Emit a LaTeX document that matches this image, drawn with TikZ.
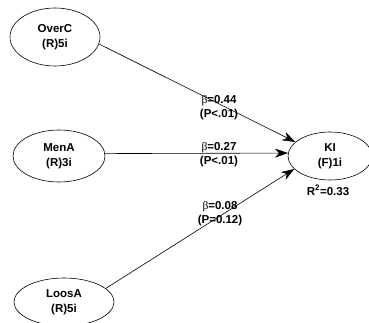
\documentclass[tikz,border=0pt]{standalone}
\usepackage{fontspec}
\setmainfont{Liberation Sans}
\newfontfamily\betafont{Liberation Serif}
\usetikzlibrary{shapes.geometric,arrows.meta}
\begin{document}
\begin{tikzpicture}[x=1pt,y=-1pt,
  lv/.style={draw,line width=0.6pt,ellipse,inner sep=0pt,align=center,font=\bfseries\fontsize{11.5}{15}\selectfont},
  pathline/.style={draw,line width=0.6pt,-{Stealth[length=13pt,width=9pt,inset=4pt]}},
  coef/.style={align=center,font=\bfseries\fontsize{11.5}{14}\selectfont,inner sep=0pt}]
\useasboundingbox (0,0) rectangle (369,323);
\node[lv,minimum width=90pt,minimum height=58pt] (overc) at (55,37) {OverC\\(R)5i};
\node[lv,minimum width=92pt,minimum height=52pt] (mena) at (59,156) {MenA\\(R)3i};
\node[lv,minimum width=100pt,minimum height=48pt] (loosa) at (64,302) {LoosA\\(R)5i};
\node[lv,minimum width=84pt,minimum height=48pt] (ki) at (330,156) {KI\\(F)1i};
\node[coef,anchor=north] (r2) at (328,185) {R\textsuperscript{2}=0.33};
\draw[pathline] (overc.-9) -- (ki.158);
\draw[pathline] (mena.3) -- (ki.176);
\draw[pathline] (loosa.18) -- (ki.200);
\node[coef] (c1) at (219,108) {{\mdseries\betafont β}=0.44\\(P<.01)};
\node[coef] (c2) at (219,155) {{\mdseries\betafont β}=0.27\\(P<.01)};
\node[coef] (c3) at (220,214) {{\mdseries\betafont β}=0.08\\(P=0.12)};
\end{tikzpicture}
\end{document}
